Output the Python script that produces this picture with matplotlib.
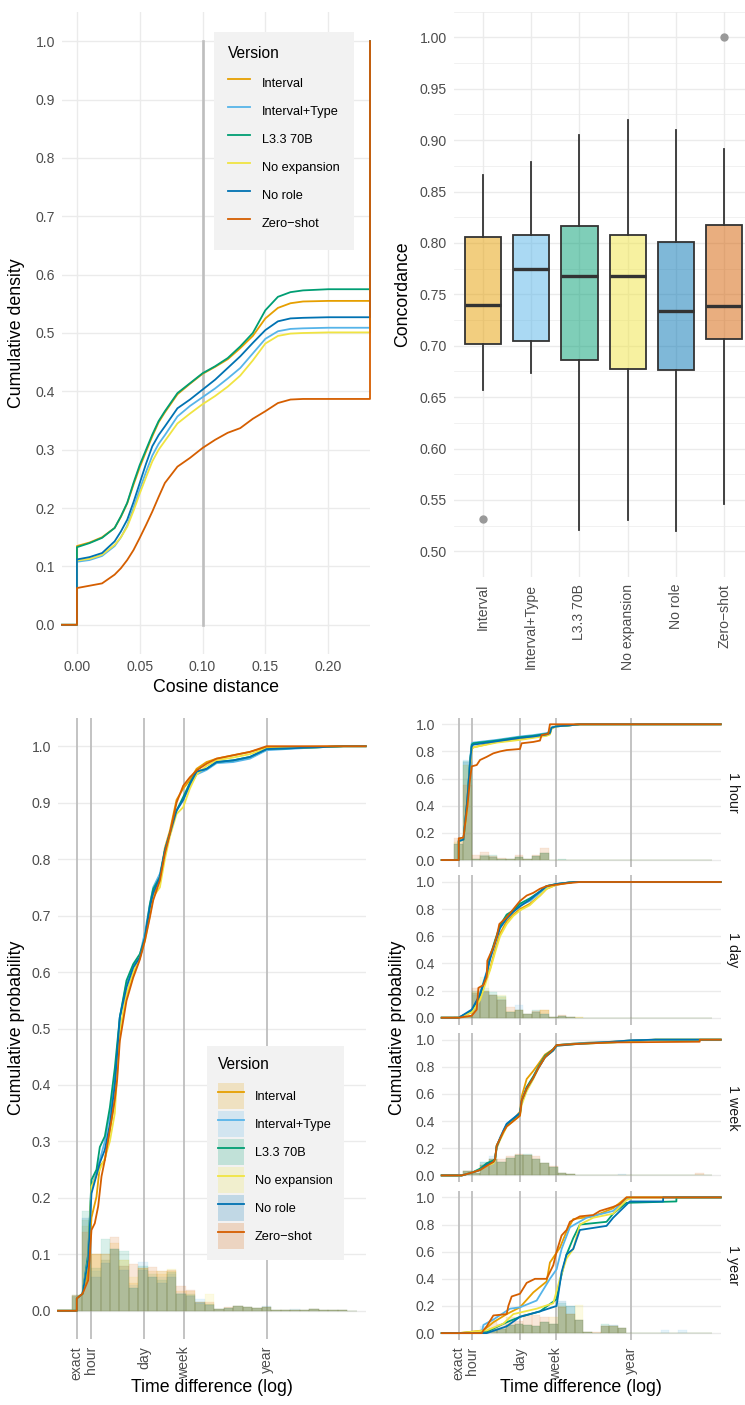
import numpy as np
import matplotlib
matplotlib.use("Agg")
import matplotlib.pyplot as plt
from matplotlib.patches import Patch
from matplotlib.lines import Line2D

plt.rcParams['font.family'] = ['Liberation Sans', 'DejaVu Sans']

# ---- data ----
versions = ["Interval", "Interval+Type", "L3.3 70B", "No expansion", "No role", "Zero\u2212shot"]
colors = ["#E69F00", "#56B4E9", "#009E73", "#F0E442", "#0072B2", "#D55E00"]

# cumulative density of cosine distance
cos_x = [0.0, 0.01, 0.02, 0.03, 0.035, 0.04, 0.045, 0.05, 0.055, 0.06, 0.065, 0.07, 0.08,
         0.09, 0.10, 0.11, 0.12, 0.13, 0.14, 0.15, 0.16, 0.17, 0.18, 0.20, 0.2215]
cos_interval = [0.135, 0.141, 0.150, 0.166, 0.185, 0.208, 0.240, 0.270, 0.297, 0.323, 0.347, 0.364, 0.395,
                0.413, 0.430, 0.442, 0.455, 0.474, 0.495, 0.525, 0.543, 0.551, 0.554, 0.555, 0.555]
cos_interval_type = [0.108, 0.111, 0.118, 0.135, 0.150, 0.170, 0.200, 0.232, 0.262, 0.290, 0.310, 0.325, 0.357,
                     0.375, 0.390, 0.405, 0.422, 0.440, 0.465, 0.490, 0.503, 0.507, 0.508, 0.509, 0.509]
cos_l33 = [0.133, 0.140, 0.149, 0.166, 0.186, 0.209, 0.243, 0.274, 0.300, 0.326, 0.349, 0.366, 0.397,
           0.414, 0.431, 0.443, 0.457, 0.477, 0.500, 0.539, 0.562, 0.570, 0.573, 0.575, 0.575]
cos_no_expansion = [0.110, 0.113, 0.120, 0.137, 0.150, 0.168, 0.195, 0.225, 0.253, 0.280, 0.300, 0.315, 0.345,
                    0.362, 0.378, 0.392, 0.408, 0.427, 0.453, 0.482, 0.495, 0.499, 0.500, 0.501, 0.501]
cos_no_role = [0.112, 0.116, 0.123, 0.143, 0.160, 0.180, 0.210, 0.243, 0.276, 0.306, 0.325, 0.340, 0.371,
               0.386, 0.403, 0.420, 0.440, 0.460, 0.483, 0.505, 0.520, 0.525, 0.526, 0.527, 0.527]
cos_zero_shot = [0.063, 0.067, 0.071, 0.086, 0.097, 0.111, 0.128, 0.149, 0.171, 0.194, 0.219, 0.243, 0.271,
                 0.286, 0.303, 0.317, 0.329, 0.337, 0.353, 0.366, 0.380, 0.386, 0.387, 0.387, 0.387]
cos_curves = [cos_interval, cos_interval_type, cos_l33, cos_no_expansion, cos_no_role, cos_zero_shot]

# concordance boxplots: q1, median, q3, whisker low, whisker high, outliers
conc_q1 = [0.702, 0.705, 0.686, 0.677, 0.676, 0.707]
conc_med = [0.740, 0.775, 0.768, 0.768, 0.734, 0.739]
conc_q3 = [0.806, 0.808, 0.816, 0.808, 0.801, 0.817]
conc_lo = [0.657, 0.673, 0.521, 0.530, 0.520, 0.546]
conc_hi = [0.866, 0.879, 0.905, 0.920, 0.910, 0.891]
conc_out = [[0.531], [], [], [], [], [1.0]]

# time difference axis: log10(1 + hours)
time_tick_hours = [0, 1, 24, 168, 8760]
time_tick_labels = ["exact", "hour", "day", "week", "year"]

# overall ECDF of time difference (x in log10(1 + hours))
main_u = [0, 0.118, 0.235, 0.304, 0.408, 0.477, 0.581, 0.685, 0.788, 0.892, 1.03, 1.169, 1.307, 1.411,
          1.515, 1.584, 1.722, 1.826, 1.929, 2.068, 2.206, 2.344, 2.483, 2.69, 2.898, 3.243, 3.589,
          3.935, 4.972, 5.526]
main_zs_u = [0, 0.118, 0.235, 0.304, 0.373, 0.443, 0.512, 0.581, 0.650, 0.719, 0.788, 0.837, 0.892,
             1.03, 1.169, 1.307, 1.411, 1.515, 1.584, 1.722, 1.826, 1.929, 2.068, 2.206, 2.344, 2.483,
             2.69, 2.898, 3.243, 3.589, 3.935]
main_ecdf = {
    "Interval": (main_u, [0.022, 0.03, 0.07, 0.165, 0.202, 0.256, 0.267, 0.32, 0.374, 0.49, 0.56, 0.595,
                          0.625, 0.66, 0.71, 0.735, 0.765, 0.82, 0.85, 0.905, 0.925, 0.94, 0.96, 0.972,
                          0.978, 0.984, 0.99, 0.998, 0.999, 1.0]),
    "Interval+Type": (main_u, [0.022, 0.03, 0.10, 0.22, 0.245, 0.267, 0.30, 0.35, 0.41, 0.52, 0.58, 0.61,
                               0.63, 0.67, 0.72, 0.75, 0.774, 0.815, 0.845, 0.886, 0.905, 0.93, 0.95,
                               0.958, 0.97, 0.972, 0.978, 0.993, 0.998, 1.0]),
    "L3.3 70B": (main_u, [0.022, 0.03, 0.10, 0.232, 0.25, 0.29, 0.309, 0.36, 0.43, 0.52, 0.585, 0.614,
                          0.632, 0.66, 0.72, 0.747, 0.768, 0.815, 0.845, 0.886, 0.91, 0.935, 0.955, 0.96,
                          0.972, 0.975, 0.981, 0.995, 0.998, 1.0]),
    "No expansion": (main_u, [0.022, 0.03, 0.09, 0.22, 0.24, 0.25, 0.27, 0.30, 0.35, 0.496, 0.561, 0.60,
                              0.626, 0.655, 0.70, 0.733, 0.75, 0.80, 0.84, 0.88, 0.892, 0.925, 0.95,
                              0.965, 0.975, 0.98, 0.986, 0.996, 0.998, 1.0]),
    "No role": (main_u, [0.022, 0.03, 0.09, 0.208, 0.24, 0.262, 0.285, 0.33, 0.40, 0.52, 0.573, 0.608,
                         0.626, 0.66, 0.715, 0.74, 0.768, 0.815, 0.845, 0.886, 0.905, 0.933, 0.955, 0.96,
                         0.972, 0.975, 0.981, 0.995, 0.998, 1.0]),
    "Zero\u2212shot": (main_zs_u, [0.022, 0.03, 0.054, 0.143, 0.155, 0.185, 0.238, 0.267, 0.303, 0.338,
                                   0.374, 0.41, 0.478, 0.549, 0.59, 0.622, 0.655, 0.697, 0.727, 0.762,
                                   0.81, 0.845, 0.90, 0.93, 0.945, 0.957, 0.969, 0.978, 0.984, 0.99, 1.0]),
}

# overall histograms (proportion per log bin)
main_hist = {
    "Interval": [0.027, 0.15, 0.10, 0.09, 0.12, 0.09, 0.05, 0.075, 0.07, 0.065, 0.07, 0.035, 0.035, 0.015,
                 0.012, 0.004, 0.005, 0.008, 0.007, 0.005, 0.006, 0.002, 0.001, 0.002, 0.001, 0.003,
                 0.001, 0.001, 0.002, 0],
    "Interval+Type": [0.025, 0.16, 0.07, 0.09, 0.11, 0.08, 0.045, 0.087, 0.065, 0.06, 0.065, 0.032, 0.03,
                      0.02, 0.01, 0.004, 0.005, 0.009, 0.007, 0.005, 0.008, 0.002, 0.001, 0.004, 0.001,
                      0.004, 0.001, 0.001, 0.002, 0],
    "L3.3 70B": [0.028, 0.176, 0.075, 0.127, 0.11, 0.106, 0.04, 0.08, 0.06, 0.055, 0.068, 0.03, 0.028,
                 0.015, 0.012, 0.004, 0.005, 0.009, 0.007, 0.005, 0.006, 0.002, 0.001, 0.002, 0.001,
                 0.003, 0.001, 0.001, 0.002, 0],
    "No expansion": [0.026, 0.16, 0.10, 0.10, 0.11, 0.09, 0.06, 0.075, 0.065, 0.07, 0.074, 0.03, 0.03,
                     0.012, 0.03, 0.004, 0.005, 0.008, 0.007, 0.005, 0.006, 0.002, 0.001, 0.002, 0.001,
                     0.003, 0.001, 0.001, 0.002, 0],
    "No role": [0.027, 0.165, 0.06, 0.085, 0.11, 0.072, 0.04, 0.072, 0.06, 0.05, 0.06, 0.03, 0.027, 0.013,
                0.01, 0.004, 0.005, 0.008, 0.007, 0.005, 0.006, 0.002, 0.001, 0.002, 0.001, 0.003, 0.001,
                0.001, 0.002, 0],
    "Zero\u2212shot": [0.028, 0.14, 0.10, 0.10, 0.131, 0.08, 0.082, 0.075, 0.077, 0.07, 0.072, 0.043,
                       0.037, 0.015, 0.015, 0.004, 0.006, 0.008, 0.007, 0.005, 0.006, 0.002, 0.001, 0.002,
                       0.001, 0.003, 0.001, 0.001, 0.002, 0],
}

facet_names = ["1 hour", "1 day", "1 week", "1 year"]

# ECDF per granularity facet
hour_u = [0, 0.107, 0.198, 0.259, 0.297, 0.335, 0.868, 1.40, 1.705, 2.009, 2.085, 2.123, 2.237, 2.466, 2.77]
ecdf_hour = {
    "Interval": (hour_u, [0.145, 0.15, 0.40, 0.70, 0.82, 0.83, 0.87, 0.89, 0.905, 0.92, 0.93, 0.97, 0.985, 0.99, 1.0]),
    "Interval+Type": (hour_u, [0.14, 0.15, 0.45, 0.74, 0.86, 0.865, 0.885, 0.91, 0.92, 0.935, 0.945, 0.975, 0.985, 0.99, 1.0]),
    "L3.3 70B": (hour_u, [0.14, 0.15, 0.45, 0.73, 0.85, 0.86, 0.88, 0.905, 0.915, 0.93, 0.94, 0.975, 0.985, 0.99, 1.0]),
    "No expansion": (hour_u, [0.14, 0.15, 0.40, 0.70, 0.82, 0.83, 0.865, 0.885, 0.90, 0.915, 0.925, 0.97, 0.985, 0.99, 1.0]),
    "No role": (hour_u, [0.14, 0.15, 0.45, 0.72, 0.84, 0.85, 0.875, 0.90, 0.91, 0.925, 0.935, 0.975, 0.985, 0.99, 1.0]),
    "Zero\u2212shot": ([0, 0.107, 0.198, 0.259, 0.297, 0.411, 0.487, 0.639, 0.791, 0.944, 1.096, 1.40, 1.438,
                        1.705, 1.857, 1.895, 2.047, 2.085],
                       [0.16, 0.165, 0.40, 0.60, 0.69, 0.70, 0.737, 0.76, 0.786, 0.80, 0.81, 0.818, 0.86,
                        0.87, 0.88, 0.92, 0.93, 1.0]),
}
day_u = [0, 0.297, 0.487, 0.639, 0.715, 0.830, 0.944, 1.096, 1.248, 1.40, 1.629, 1.857, 2.009, 2.237, 2.618]
ecdf_day = {
    "Interval": (day_u, [0.0, 0.04, 0.14, 0.30, 0.36, 0.50, 0.62, 0.71, 0.76, 0.80, 0.84, 0.90, 0.95, 0.98, 1.0]),
    "Interval+Type": (day_u, [0.0, 0.05, 0.18, 0.34, 0.44, 0.56, 0.67, 0.74, 0.785, 0.83, 0.86, 0.92, 0.96, 0.985, 1.0]),
    "L3.3 70B": (day_u, [0.0, 0.05, 0.17, 0.32, 0.45, 0.57, 0.68, 0.76, 0.79, 0.84, 0.88, 0.93, 0.97, 0.985, 1.0]),
    "No expansion": (day_u, [0.0, 0.04, 0.13, 0.28, 0.35, 0.48, 0.60, 0.69, 0.75, 0.79, 0.83, 0.90, 0.95, 0.98, 1.0]),
    "No role": (day_u, [0.0, 0.06, 0.17, 0.33, 0.43, 0.55, 0.66, 0.73, 0.78, 0.82, 0.87, 0.93, 0.97, 0.985, 1.0]),
    "Zero\u2212shot": ([0, 0.297, 0.411, 0.449, 0.563, 0.639, 0.654, 0.791, 0.868, 0.928, 1.096, 1.248, 1.40,
                        1.553, 1.705, 1.857, 2.009, 2.237, 2.466, 2.77],
                       [0.0, 0.015, 0.06, 0.22, 0.24, 0.30, 0.42, 0.52, 0.60, 0.69, 0.74, 0.80, 0.86, 0.90,
                        0.92, 0.95, 0.97, 0.98, 0.99, 1.0]),
}
week_u = [0, 0.068, 0.297, 0.487, 0.639, 0.791, 0.830, 0.868, 0.944, 1.02, 1.096, 1.248, 1.40, 1.438, 1.553,
          1.705, 1.819, 1.971, 2.161, 2.237, 2.77, 3.531, 3.942, 4.5]
ecdf_week = {
    "Interval": (week_u, [0, 0, 0.02, 0.04, 0.07, 0.10, 0.12, 0.22, 0.27, 0.32, 0.37, 0.41, 0.47, 0.58, 0.71,
                          0.77, 0.82, 0.89, 0.93, 0.96, 0.975, 0.985, 0.995, 1.0]),
    "Interval+Type": (week_u, [0, 0, 0.02, 0.04, 0.08, 0.10, 0.12, 0.21, 0.28, 0.33, 0.38, 0.42, 0.46, 0.55,
                               0.65, 0.72, 0.79, 0.87, 0.93, 0.96, 0.975, 0.985, 0.995, 1.0]),
    "L3.3 70B": (week_u, [0, 0, 0.02, 0.05, 0.09, 0.11, 0.12, 0.22, 0.27, 0.32, 0.37, 0.41, 0.45, 0.54, 0.65,
                          0.73, 0.80, 0.88, 0.93, 0.96, 0.97, 0.98, 0.99, 1.0]),
    "No expansion": (week_u, [0, 0, 0.02, 0.04, 0.07, 0.09, 0.11, 0.20, 0.26, 0.31, 0.36, 0.40, 0.44, 0.52,
                              0.62, 0.71, 0.79, 0.87, 0.92, 0.955, 0.97, 0.98, 0.99, 1.0]),
    "No role": (week_u, [0, 0, 0.02, 0.04, 0.08, 0.10, 0.12, 0.21, 0.27, 0.33, 0.38, 0.42, 0.46, 0.55, 0.64,
                         0.72, 0.79, 0.87, 0.92, 0.955, 0.97, 0.985, 0.995, 1.0]),
    "Zero\u2212shot": ([0, 0.068, 0.297, 0.487, 0.639, 0.791, 0.830, 0.868, 0.944, 1.02, 1.096, 1.248, 1.40,
                        1.438, 1.553, 1.705, 1.819, 1.971, 2.161, 2.237, 2.77, 3.531, 5.51, 5.51],
                       [0, 0, 0.02, 0.04, 0.07, 0.10, 0.12, 0.22, 0.27, 0.32, 0.36, 0.40, 0.44, 0.55, 0.64,
                        0.72, 0.79, 0.87, 0.93, 0.96, 0.97, 0.98, 0.985, 1.0]),
}
ecdf_year = {
    "Interval": ([0, 0.563, 0.791, 1.096, 1.40, 1.705, 2.009, 2.085, 2.314, 2.466, 2.618, 3.075, 3.531, 3.836],
                 [0, 0.02, 0.08, 0.14, 0.19, 0.30, 0.38, 0.52, 0.63, 0.75, 0.84, 0.86, 0.92, 1.0]),
    "Interval+Type": ([0, 0.525, 0.563, 0.791, 1.172, 1.40, 1.781, 2.085, 2.237, 2.352, 2.542, 2.922, 3.531,
                       3.836, 3.912],
                      [0, 0, 0.06, 0.10, 0.18, 0.19, 0.24, 0.40, 0.47, 0.62, 0.78, 0.85, 0.90, 0.99, 1.0]),
    "L3.3 70B": ([0, 0.639, 1.096, 1.40, 1.857, 2.237, 2.314, 2.466, 2.618, 2.77, 3.379, 3.531, 3.836, 4.977,
                  4.977],
                 [0, 0.01, 0.08, 0.12, 0.16, 0.25, 0.38, 0.58, 0.70, 0.80, 0.82, 0.88, 0.96, 0.97, 1.0]),
    "No expansion": ([0, 0.639, 1.02, 1.248, 1.781, 2.161, 2.314, 2.466, 2.618, 2.77, 3.075, 3.531, 3.836,
                      3.988],
                     [0, 0.02, 0.07, 0.14, 0.18, 0.22, 0.40, 0.55, 0.62, 0.80, 0.85, 0.88, 0.98, 1.0]),
    "No role": ([0, 0.639, 1.096, 1.40, 1.857, 2.237, 2.352, 2.466, 2.618, 2.77, 3.379, 3.531, 3.912, 4.673,
                 4.673],
                [0, 0.0, 0.05, 0.12, 0.16, 0.20, 0.45, 0.58, 0.62, 0.76, 0.79, 0.85, 0.97, 0.97, 1.0]),
    "Zero\u2212shot": ([0, 0.525, 0.563, 0.639, 0.791, 1.096, 1.134, 1.21, 1.40, 1.553, 1.743, 2.009, 2.161,
                        2.237, 2.352, 2.466, 2.542, 2.77, 3.075, 3.227, 3.531, 3.683, 3.836],
                       [0, 0, 0.02, 0.05, 0.13, 0.14, 0.20, 0.27, 0.29, 0.37, 0.40, 0.40, 0.50, 0.60, 0.72,
                        0.76, 0.82, 0.86, 0.87, 0.90, 0.93, 0.95, 1.0]),
}

# histograms per facet (30 log bins)
hist_hour = {
    "Interval": [0.12, 0.70, 0.01, 0.03, 0.02, 0.01, 0.005, 0.025, 0.01, 0.03, 0.05] + [0] * 19,
    "Interval+Type": [0.12, 0.74, 0.01, 0.03, 0.02, 0.01, 0.005, 0.025, 0.01, 0.03, 0.05] + [0] * 19,
    "L3.3 70B": [0.12, 0.73, 0.01, 0.04, 0.035, 0.01, 0.005, 0.025, 0.01, 0.03, 0.05, 0, 0.008] + [0] * 17,
    "No expansion": [0.13, 0.70, 0.01, 0.03, 0.02, 0.01, 0.005, 0.025, 0.01, 0.03, 0.05] + [0] * 19,
    "No role": [0.12, 0.72, 0.01, 0.03, 0.02, 0.01, 0.005, 0.025, 0.01, 0.03, 0.05] + [0] * 19,
    "Zero\u2212shot": [0.16, 0.55, 0.035, 0.06, 0.03, 0.015, 0.005, 0.04, 0.01, 0.04, 0.085] + [0] * 19,
}
hist_day = {
    "Interval": [0.005, 0.01, 0.18, 0.20, 0.17, 0.15, 0.04, 0.06, 0.03, 0.04, 0.06, 0.005, 0.01, 0.005, 0.005] + [0] * 15,
    "Interval+Type": [0.005, 0.01, 0.17, 0.22, 0.17, 0.14, 0.04, 0.096, 0.03, 0.04, 0.03, 0.005, 0.01, 0.005, 0] + [0] * 15,
    "L3.3 70B": [0.005, 0.01, 0.20, 0.20, 0.19, 0.16, 0.04, 0.06, 0.03, 0.06, 0.03, 0.005, 0.01, 0.005, 0] + [0] * 15,
    "No expansion": [0.005, 0.01, 0.19, 0.30, 0.17, 0.17, 0.05, 0.06, 0.03, 0.04, 0.06, 0.005, 0.01, 0.005, 0.005] + [0] * 15,
    "No role": [0.005, 0.01, 0.18, 0.19, 0.17, 0.13, 0.04, 0.06, 0.03, 0.04, 0.03, 0.005, 0.01, 0.005, 0] + [0] * 15,
    "Zero\u2212shot": [0.005, 0.01, 0.22, 0.20, 0.17, 0.13, 0.077, 0.06, 0.03, 0.05, 0.06, 0.005, 0.02, 0.005, 0] + [0] * 15,
}
hist_week = {
    "Interval": [0, 0.03, 0.02, 0.08, 0.12, 0.10, 0.13, 0.15, 0.15, 0.12, 0.09, 0.06, 0.015, 0.01, 0.005,
                 0.005, 0.005, 0.003, 0.003, 0.005, 0.003, 0.002, 0.002, 0.002, 0.002, 0.002, 0.002, 0.002, 0.002, 0],
    "Interval+Type": [0, 0.03, 0.02, 0.10, 0.14, 0.10, 0.13, 0.15, 0.15, 0.12, 0.09, 0.06, 0.015, 0.01, 0.005,
                      0.005, 0.005, 0.003, 0.003, 0.008, 0.003, 0.002, 0.002, 0.002, 0.002, 0.002, 0.002, 0.002, 0.002, 0],
    "L3.3 70B": [0, 0.03, 0.02, 0.10, 0.12, 0.10, 0.13, 0.15, 0.16, 0.12, 0.09, 0.06, 0.015, 0.01, 0.005,
                 0.005, 0.005, 0.003, 0.003, 0.005, 0.003, 0.002, 0.002, 0.002, 0.002, 0.002, 0.002, 0.002, 0.002, 0],
    "No expansion": [0, 0.03, 0.02, 0.08, 0.12, 0.10, 0.13, 0.15, 0.15, 0.12, 0.09, 0.06, 0.015, 0.01, 0.005,
                     0.005, 0.005, 0.003, 0.003, 0.005, 0.003, 0.002, 0.002, 0.002, 0.002, 0.002, 0.002, 0.002, 0.002, 0],
    "No role": [0, 0.03, 0.02, 0.08, 0.12, 0.10, 0.13, 0.15, 0.15, 0.12, 0.09, 0.06, 0.015, 0.01, 0.005,
                0.005, 0.005, 0.003, 0.003, 0.005, 0.003, 0.002, 0.002, 0.002, 0.002, 0.002, 0.002, 0.002, 0.002, 0],
    "Zero\u2212shot": [0, 0.03, 0.02, 0.08, 0.12, 0.12, 0.14, 0.16, 0.15, 0.14, 0.09, 0.07, 0.015, 0.01, 0.005,
                       0.005, 0.005, 0.003, 0.003, 0.005, 0.003, 0.002, 0.002, 0.002, 0.002, 0.002, 0.002, 0.002, 0.02, 0],
}
hist_year = {
    "Interval": [0, 0, 0, 0.01, 0.03, 0.03, 0.06, 0.07, 0.06, 0.05, 0.08, 0.12, 0.19, 0.14, 0.10, 0.01, 0,
                 0.05, 0.05, 0.04] + [0] * 10,
    "Interval+Type": [0, 0, 0, 0.05, 0.03, 0.04, 0.06, 0.07, 0.06, 0.05, 0.08, 0.07, 0.19, 0.14, 0.10, 0.01, 0,
                      0.05, 0.05, 0.04, 0, 0, 0, 0, 0.02, 0, 0.02, 0, 0, 0],
    "L3.3 70B": [0, 0, 0, 0.01, 0.03, 0.03, 0.06, 0.07, 0.06, 0.05, 0.08, 0.07, 0.22, 0.20, 0.10, 0.01, 0,
                 0.07, 0.05, 0.04] + [0] * 10,
    "No expansion": [0, 0, 0, 0.01, 0.03, 0.03, 0.06, 0.07, 0.06, 0.05, 0.08, 0.07, 0.20, 0.14, 0.21, 0.01, 0,
                     0.05, 0.05, 0.04] + [0] * 10,
    "No role": [0, 0, 0, 0.01, 0.03, 0.03, 0.06, 0.07, 0.06, 0.05, 0.08, 0.07, 0.24, 0.20, 0.10, 0.01, 0,
                0.05, 0.06, 0.04] + [0] * 10,
    "Zero\u2212shot": [0, 0, 0, 0.01, 0.10, 0.07, 0.12, 0.09, 0.14, 0.13, 0.12, 0.07, 0.19, 0.14, 0.10, 0.01,
                       0.01, 0.05, 0.05, 0.04] + [0] * 10,
}
facet_ecdf = [ecdf_hour, ecdf_day, ecdf_week, ecdf_year]
facet_hist = [hist_hour, hist_day, hist_week, hist_year]

# ---- layout ----
W, H = 745, 1405
fig = plt.figure(figsize=(W / 100, H / 100), dpi=100)
TICK_C = '#4D4D4D'
GRID_C = '#EBEBEB'
VLINE_C = '#BEBEBE'
TS = 10.1      # tick labels
LS = 12.8      # axis titles
LEG_T = 11.2   # legend title
LEG_S = 9.2    # legend entries
STRIP = 10.3
LW = 1.3


def px_axes(l, t, r, b):
    return fig.add_axes([l / W, 1 - b / H, (r - l) / W, (b - t) / H])


def style(ax):
    for s in ax.spines.values():
        s.set_visible(False)
    ax.tick_params(length=0, labelsize=TS, labelcolor=TICK_C)
    ax.set_axisbelow(True)


def ftext(x, y, s, **kw):
    fig.text(x / W, 1 - y / H, s, **kw)


def draw_ecdf(ax, u, p, color, xl, xr):
    xs = [xl, u[0]] + list(u) + [xr, xr]
    ys = [0, 0] + list(p) + [p[-1], 1.0]
    ax.plot(xs, ys, color=color, lw=LW, clip_on=False, zorder=3)


def add_legend(ax, handles, x, y, hlen, tpad, bpad, title_gap):
    leg = ax.legend(handles, versions, loc='upper left', bbox_to_anchor=(x / W, 1 - y / H),
                    bbox_transform=fig.transFigure, borderaxespad=0, frameon=True,
                    facecolor='#F2F2F2', edgecolor='none', framealpha=1, fancybox=False,
                    title='Version', title_fontsize=LEG_T, fontsize=LEG_S, handlelength=hlen,
                    handleheight=2.7, labelspacing=0.19, borderpad=bpad, handletextpad=tpad,
                    alignment='left')
    # extra room between the title and the first key
    leg._legend_box.sep = title_gap
    leg.set_zorder(10)
    return leg


# ---- top left: cosine distance ECDF ----
ax1 = px_axes(62, 12, 370, 654)
style(ax1)
xl1, xr1 = -0.0119, 0.2333
ax1.set_xlim(xl1, xr1)
ax1.set_ylim(-0.05, 1.05)
ax1.set_xticks([0, 0.05, 0.10, 0.15, 0.20])
ax1.set_xticklabels(["0.00", "0.05", "0.10", "0.15", "0.20"])
ax1.set_yticks(np.arange(0, 1.01, 0.1))
ax1.set_yticklabels([f"{v:.1f}" for v in np.arange(0, 1.01, 0.1)])
ax1.tick_params(axis='y', pad=5)
ax1.tick_params(axis='x', pad=4)
ax1.grid(True, color=GRID_C, lw=1.0)
ax1.plot([0.1, 0.1], [0, 1], color=VLINE_C, lw=1.9, zorder=2)
for name, col, curve in zip(versions, colors, cos_curves):
    draw_ecdf(ax1, cos_x, curve, col, xl1, xr1)
h1 = [Line2D([], [], color=c, lw=LW) for c in colors]
add_legend(ax1, h1, 214, 32, 1.72, 0.94, 1.1, 6.8)
ftext(216, 688, "Cosine distance", fontsize=LS, ha='center', va='center')
ftext(17, 333, "Cumulative density", fontsize=LS, ha='center', va='center', rotation=90)

# ---- top right: concordance boxplots ----
ax2 = px_axes(454, 11.6, 745, 577)
style(ax2)
pos = np.arange(1, len(versions) + 1)
stats = []
for i in range(len(versions)):
    stats.append(dict(med=conc_med[i], q1=conc_q1[i], q3=conc_q3[i], whislo=conc_lo[i],
                      whishi=conc_hi[i], fliers=conc_out[i]))
bp = ax2.bxp(stats, positions=pos, widths=0.75, patch_artist=True, showcaps=False,
             boxprops=dict(edgecolor='#333333', lw=1.3),
             medianprops=dict(color='#333333', lw=2.4, solid_capstyle='butt'),
             whiskerprops=dict(color='#333333', lw=1.3),
             flierprops=dict(marker='o', markerfacecolor='#999999', markeredgecolor='#999999',
                             markersize=5))
for box, col in zip(bp['boxes'], colors):
    box.set_facecolor(matplotlib.colors.to_rgba(col, 0.5))
ax2.set_xlim(0.4, 6.43)
ax2.set_ylim(0.4753, 1.0247)
ax2.set_xticks(pos)
ax2.set_xticklabels(versions, rotation=90, ha='center', va='top')
ax2.set_yticks(np.arange(0.5, 1.001, 0.05))
ax2.set_yticklabels([f"{v:.2f}" for v in np.arange(0.5, 1.001, 0.05)])
ax2.set_yticks(np.arange(0.475, 1.03, 0.05), minor=True)
ax2.tick_params(which='minor', length=0)
ax2.grid(True, which='major', color=GRID_C, lw=1.0)
ax2.grid(True, which='minor', axis='y', color=GRID_C, lw=0.5)
ax2.tick_params(axis='y', pad=5)
ax2.tick_params(axis='x', pad=5)
ftext(403, 294, "Concordance", fontsize=LS, ha='center', va='center', rotation=90)

# ---- bottom: time difference ----
tick_u = np.log10(1 + np.array(time_tick_hours))
xl3, xr3 = -0.39, 5.99
bin_w = 0.1966
bin_centers = np.arange(30) * bin_w


def time_axis(ax, show_labels):
    style(ax)
    ax.set_xlim(xl3, xr3)
    ax.set_ylim(-0.05, 1.05)
    ax.set_xticks(tick_u)
    if show_labels:
        ax.set_xticklabels(time_tick_labels, rotation=90, ha='center', va='top')
    else:
        ax.set_xticklabels([])
    ax.tick_params(axis='x', pad=5)
    ax.tick_params(axis='y', pad=5)
    ax.grid(True, axis='y', color=GRID_C, lw=1.0)
    for u in tick_u:
        ax.axvline(u, color=VLINE_C, lw=1.3, zorder=1)


def draw_hist(ax, hist):
    for name, col in zip(versions, colors):
        ax.bar(bin_centers, hist[name], width=bin_w, color=col, alpha=0.15, edgecolor=col,
               linewidth=0.3, zorder=2)


ax3 = px_axes(58, 718, 365.7, 1339)
time_axis(ax3, True)
ax3.set_yticks(np.arange(0, 1.01, 0.1))
ax3.set_yticklabels([f"{v:.1f}" for v in np.arange(0, 1.01, 0.1)])
draw_hist(ax3, main_hist)
for name, col in zip(versions, colors):
    u, p = main_ecdf[name]
    draw_ecdf(ax3, u, p, col, xl3, xr3)
h3 = [(Patch(facecolor=c, alpha=0.2, edgecolor='none'), Line2D([], [], color=c, lw=LW)) for c in colors]
add_legend(ax3, h3, 207, 1046, 2.03, 0.85, 0.86, 8.2)
ftext(212, 1387, "Time difference (log)", fontsize=LS, ha='center', va='center')
ftext(17, 1028, "Cumulative probability", fontsize=LS, ha='center', va='center', rotation=90)

facet_tops = [717.5, 875.2, 1032.9, 1190.6]
facet_h = 149.3
for i, (fname, ecdf, hist) in enumerate(zip(facet_names, facet_ecdf, facet_hist)):
    top = facet_tops[i]
    ax = px_axes(441.7, top, 720.7, top + facet_h)
    time_axis(ax, i == len(facet_names) - 1)
    ax.set_yticks(np.arange(0, 1.01, 0.2))
    ax.set_yticklabels([f"{v:.1f}" for v in np.arange(0, 1.01, 0.2)])
    draw_hist(ax, hist)
    for name, col in zip(versions, colors):
        u, p = ecdf[name]
        draw_ecdf(ax, u, p, col, xl3, xr3)
    ftext(733, top + facet_h / 2, fname, fontsize=STRIP, ha='center', va='center', rotation=270,
          color='#1A1A1A')
ftext(581, 1387, "Time difference (log)", fontsize=LS, ha='center', va='center')
ftext(397, 1028, "Cumulative probability", fontsize=LS, ha='center', va='center', rotation=90)

fig.savefig("out.png", dpi=100)
